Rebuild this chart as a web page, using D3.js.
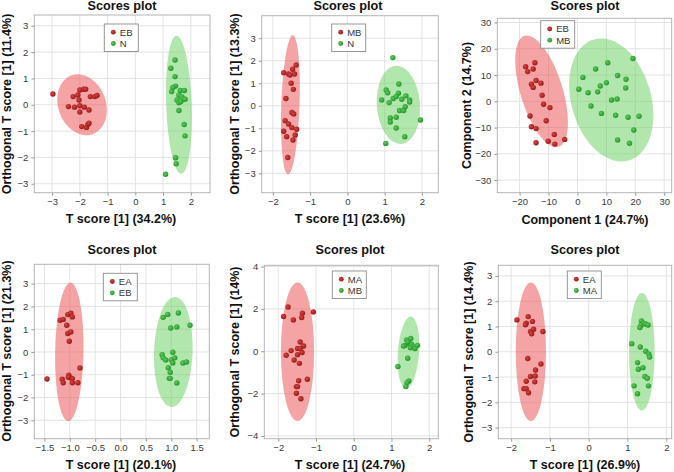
<!DOCTYPE html>
<html><head><meta charset="utf-8">
<script src="https://cdn.jsdelivr.net/npm/d3@7"></script>
<style>body{margin:0;background:#fff}svg{display:block}</style>
</head><body><svg id="c" width="674" height="472"></svg>
<script>
// ---------------- DATA ----------------
const p1Red = [[-2.97,0.41],[-2.24,0.31],[-2.07,0.37],[-2.0,0.56],[-1.86,0.59],[-1.79,0.59],[-2.41,-0.07],[-2.19,-0.09],[-2.03,0.18],[-2.0,-0.04],[-2.0,-0.27],[-1.84,-0.09],[-1.67,-0.2],[-1.62,0.31],[-1.46,0.31],[-1.38,0.35],[-1.93,-0.83],[-1.76,-0.86],[-1.71,-0.75],[-1.67,-0.7]];
const p1Green = [[1.43,1.70],[1.28,1.39],[1.43,1.07],[1.45,0.71],[1.35,0.66],[1.31,0.5],[1.62,0.54],[1.77,0.54],[1.57,0.37],[1.67,0.31],[1.71,0.23],[1.79,0.21],[1.50,0.18],[1.57,0.08],[1.64,0.12],[1.57,-0.22],[1.76,-0.75],[1.79,-1.18],[1.45,-2.01],[1.47,-2.24],[1.09,-2.64]];
const p1Ellipses = [[-1.92,0.0,0.86,1.19,-20],[1.57,0.0,0.46,2.62,-2]];
const p1XTicks = [-3,-2,-1,0,1,2], p1YTicks = [-3,-2,-1,0,1,2,3];
const p1XDomain = [-3.64,2.69], p1YDomain = [-3.34,3.41];
const p1Text = ["T score [1] (34.2%)","Orthogonal T score [1] (11.4%)","EB","N"];

const p2Red = [[-1.375,1.81],[-1.71,1.47],[-1.58,1.41],[-1.54,1.37],[-1.47,1.62],[-1.42,1.41],[-1.51,1.0],[-1.45,0.73],[-1.65,0.32],[-1.49,-0.30],[-1.44,-0.36],[-1.67,-0.66],[-1.58,-0.81],[-1.49,-0.97],[-1.36,-1.04],[-1.71,-1.13],[-1.63,-1.37],[-1.40,-1.30],[-1.46,-1.52],[-1.60,-2.30]];
const p2Green = [[1.22,2.14],[1.38,0.97],[1.04,0.70],[1.08,0.58],[1.37,0.56],[0.92,0.26],[1.12,0.14],[1.23,0.32],[1.31,0.41],[1.46,0.29],[1.57,0.44],[1.67,0.26],[1.67,0.17],[1.40,-0.21],[1.51,-0.21],[1.55,-0.04],[1.15,-0.54],[1.15,-0.72],[1.31,-0.51],[1.31,-0.99],[1.96,-0.63],[1.54,-1.37],[1.03,-1.67]];
const p2Ellipses = [[-1.53,0.04,0.245,3.09,2],[1.37,0.04,0.58,1.74,-4]];
const p2XTicks = [-2,-1,0,1,2], p2YTicks = [-3,-2,-1,0,1,2,3];
const p2XDomain = [-2.30,2.44], p2YDomain = [-3.86,4.0];
const p2Text = ["T score [1] (23.6%)","Orthogonal T score [1] (13.3%)","MB","N"];

const p3Red = [[-17.9,13.2],[-14.7,14.7],[-17.2,11.3],[-15.3,12.3],[-15.9,6.5],[-15.3,5.3],[-14.3,7.9],[-12.6,6.9],[-12.2,2.3],[-11.7,-1.1],[-9.5,-2.4],[-16.4,-5.6],[-15.9,-9.7],[-14.3,-10.4],[-10.8,-7.4],[-8.0,-12.6],[-14.3,-15.8],[-10.1,-15.2],[-7.8,-16.3],[-4.4,-14.5]];
const p3Green = [[19.2,16.3],[10.5,14.7],[6.3,12.3],[1.9,9.1],[13.9,9.8],[10.0,7.1],[16.8,8.4],[0.5,4.6],[3.7,3.3],[7.9,5.8],[7.0,3.6],[16.7,5.1],[11.8,0.5],[13.7,0.9],[4.7,-1.8],[8.3,-4.6],[13.2,-5.3],[17.5,-6.1],[21.3,-5.7],[19.5,-10.9],[13.9,-14.7],[18.0,-16.0]];
const p3Ellipses = [[-12.4,3.8,7.3,22.1,-17],[11.7,0.5,13.8,24.0,-16]];
const p3XTicks = [-20,-10,0,10,20,30], p3YTicks = [-30,-20,-10,0,10,20,30];
const p3XDomain = [-27.7,32.6], p3YDomain = [-34.8,31.6];
const p3Text = ["Component 1 (24.7%)","Component 2 (14.7%)","EB","MB"];

const p4Red = [[-1.19,1.39],[-1.13,1.43],[-1.04,1.64],[-0.98,1.70],[-0.95,1.54],[-1.06,1.17],[-1.04,0.81],[-0.98,0.88],[-1.01,0.47],[-0.80,-0.70],[-1.45,-1.19],[-1.15,-1.20],[-1.13,-1.35],[-1.02,-1.02],[-0.99,-1.13],[-0.95,-1.17],[-0.95,-1.35],[-0.84,-1.35],[-1.03,-1.11]];
const p4Green = [[0.84,1.52],[0.93,1.65],[1.14,1.71],[1.37,1.17],[0.99,1.05],[1.11,1.10],[0.82,-0.12],[0.84,-0.26],[0.89,-0.35],[1.03,-0.01],[1.00,-0.35],[1.03,-0.48],[1.07,-0.26],[1.23,-0.48],[1.30,-0.44],[0.94,-0.69],[0.98,-0.89],[0.96,-1.16],[0.98,-1.16],[1.11,-1.36]];
const p4Ellipses = [[-1.01,0.0,0.28,3.04,1],[1.04,0.0,0.38,2.42,2]];
const p4XTicks = [-1.5,-1.0,-0.5,0.0,0.5,1.0,1.5], p4YTicks = [-3,-2,-1,0,1,2,3];
const p4XDomain = [-1.70,1.75], p4YDomain = [-3.81,3.85];
const p4Text = ["T score [1] (20.1%)","Orthogonal T score [1] (21.3%)","EA","EB"];

const p5Red = [[-1.74,2.09],[-1.86,1.64],[-1.60,1.48],[-1.36,1.80],[-1.38,1.59],[-1.07,1.86],[-1.42,0.44],[-1.33,0.25],[-1.49,0.13],[-1.42,0.13],[-1.66,0.03],[-1.37,-0.06],[-1.79,-0.19],[-1.49,-0.16],[-1.58,-0.41],[-1.44,-0.57],[-1.23,-1.32],[-1.46,-1.39],[-1.52,-1.67],[-1.49,-1.67],[-1.52,-1.98],[-1.40,-2.24]];
const p5Green = [[1.40,0.54],[1.51,0.60],[1.36,0.28],[1.46,0.38],[1.53,0.33],[1.57,0.22],[1.62,0.13],[1.69,0.28],[1.43,0.44],[1.50,0.17],[1.43,-0.33],[1.17,-0.72],[1.46,-1.40],[1.41,-1.48],[1.38,-1.67],[1.32,0.25]];
const p5Ellipses = [[-1.49,-0.02,0.44,3.27,0],[1.45,-0.06,0.28,1.70,4]];
const p5XTicks = [-2,-1,0,1,2], p5YTicks = [-4,-2,0,2,4];
const p5XDomain = [-2.37,2.24], p5YDomain = [-4.13,4.06];
const p5Text = ["T score [1] (24.7%)","Orthogonal T score [1] (14%)","MA","MB"];

const p6Red = [[-1.85,1.26],[-1.61,1.13],[-1.63,1.07],[-1.56,1.39],[-1.45,1.20],[-1.50,0.80],[-1.47,0.71],[-1.42,0.89],[-1.18,0.80],[-1.57,-0.27],[-1.23,-0.48],[-1.37,-0.72],[-1.38,-0.96],[-1.50,-0.98],[-1.61,-1.17],[-1.39,-1.19],[-1.67,-1.46],[-1.61,-1.46],[-1.55,-1.62]];
const p6Green = [[1.11,0.32],[1.36,1.22],[1.41,1.13],[1.35,1.05],[1.32,0.96],[1.47,1.10],[1.53,1.06],[1.33,0.19],[1.47,0.02],[1.55,-0.10],[1.57,-0.21],[1.26,-0.43],[1.28,-0.69],[1.40,-0.63],[1.45,-0.98],[1.51,-1.05],[1.17,-1.35],[1.54,-1.35],[1.26,-1.66]];
const p6Ellipses = [[-1.49,0.0,0.39,2.74,0],[1.37,0.0,0.33,2.32,0]];
const p6XTicks = [-2,-1,0,1,2], p6YTicks = [-3,-2,-1,0,1,2,3];
const p6XDomain = [-2.33,2.14], p6YDomain = [-3.44,3.42];
const p6Text = ["T score [1] (26.9%)","Orthogonal T score [1] (14.4%)","EA","MA"];

const titleText = "Scores plot";

// ---------------- LAYOUT ----------------
const layout = [
  {frame:[34.3,15,210,192.7], title:[122,5.5], xlab:[121,219], ylab:[7,104], legend:[104.3,24]},
  {frame:[261.7,15.7,438.3,192.7], title:[348,5.5], xlab:[350,219], ylab:[235,104], legend:[331.7,24]},
  {frame:[497.3,18.3,671.7,192.7], title:[585,5.5], xlab:[585,220], ylab:[467,105.5], legend:[540.7,20.7]},
  {frame:[34.3,264.3,209.3,438.7], title:[122,250], xlab:[121,465], ylab:[7,351], legend:[103.3,273.3]},
  {frame:[264.3,265.3,438.3,438.7], title:[350,250], xlab:[350,465], ylab:[234.5,352], legend:[332.3,271]},
  {frame:[498.3,265.3,671.7,438.7], title:[585,250], xlab:[585,465], ylab:[468.5,352], legend:[567.3,271]}
];
const fInt = d3.format("d"), fDec = d3.format(".1f");
const panels = [
  {red:p1Red, green:p1Green, ell:p1Ellipses, xt:p1XTicks, yt:p1YTicks, xd:p1XDomain, yd:p1YDomain, txt:p1Text, xf:fInt, yf:fInt},
  {red:p2Red, green:p2Green, ell:p2Ellipses, xt:p2XTicks, yt:p2YTicks, xd:p2XDomain, yd:p2YDomain, txt:p2Text, xf:fInt, yf:fInt},
  {red:p3Red, green:p3Green, ell:p3Ellipses, xt:p3XTicks, yt:p3YTicks, xd:p3XDomain, yd:p3YDomain, txt:p3Text, xf:fInt, yf:fInt},
  {red:p4Red, green:p4Green, ell:p4Ellipses, xt:p4XTicks, yt:p4YTicks, xd:p4XDomain, yd:p4YDomain, txt:p4Text, xf:fDec, yf:fInt},
  {red:p5Red, green:p5Green, ell:p5Ellipses, xt:p5XTicks, yt:p5YTicks, xd:p5XDomain, yd:p5YDomain, txt:p5Text, xf:fInt, yf:fInt},
  {red:p6Red, green:p6Green, ell:p6Ellipses, xt:p6XTicks, yt:p6YTicks, xd:p6XDomain, yd:p6YDomain, txt:p6Text, xf:fInt, yf:fInt}
];

// ---------------- DRAW ----------------
const FONT = "'Liberation Sans', Arial, Helvetica, sans-serif";
const svg = d3.select("#c");
svg.append("rect").attr("width",674).attr("height",472).attr("fill","#fff");
const defs = svg.append("defs");
function grad(id,c0,c1){
  const g = defs.append("radialGradient").attr("id",id).attr("cx","40%").attr("cy","40%").attr("r","65%");
  g.append("stop").attr("offset","0%").attr("stop-color",c0);
  g.append("stop").attr("offset","100%").attr("stop-color",c1);
}
grad("gRed","#d64545","#961313");
grad("gGreen","#5ccc5c","#1f8f25");
const ellFill = ["rgba(235,90,90,0.55)","rgba(100,205,90,0.5)"];
const dotFill = ["url(#gRed)","url(#gGreen)"];
const R = 2.7;

panels.forEach((p,i)=>{
  const L = layout[i];
  const [x0,y0,x1,y1] = L.frame;
  const x = d3.scaleLinear().domain(p.xd).range([x0,x1]);
  const y = d3.scaleLinear().domain(p.yd).range([y1,y0]);
  const g = svg.append("g");
  const cid = "clip"+i;
  defs.append("clipPath").attr("id",cid).append("rect").attr("x",x0).attr("y",y0).attr("width",x1-x0).attr("height",y1-y0);

  // grid
  g.append("g").selectAll("line").data(p.xt).join("line")
    .attr("x1",d=>x(d)).attr("x2",d=>x(d)).attr("y1",y0).attr("y2",y1)
    .attr("stroke","#e3e3e3").attr("stroke-width",1);
  g.append("g").selectAll("line").data(p.yt).join("line")
    .attr("y1",d=>y(d)).attr("y2",d=>y(d)).attr("x1",x0).attr("x2",x1)
    .attr("stroke","#e3e3e3").attr("stroke-width",1);

  // ellipses
  const eg = g.append("g").attr("clip-path",`url(#${cid})`);
  eg.selectAll("ellipse").data(p.ell).join("ellipse")
    .attr("cx",d=>x(d[0])).attr("cy",d=>y(d[1]))
    .attr("rx",d=>Math.abs(x(d[0]+d[2])-x(d[0])))
    .attr("ry",d=>Math.abs(y(d[1]+d[3])-y(d[1])))
    .attr("transform",d=>`rotate(${d[4]},${x(d[0])},${y(d[1])})`)
    .attr("fill",(d,j)=>ellFill[j]);

  // points
  [p.red,p.green].forEach((arr,j)=>{
    eg.append("g").selectAll("circle").data(arr).join("circle")
      .attr("cx",d=>x(d[0])).attr("cy",d=>y(d[1])).attr("r",R)
      .attr("fill",dotFill[j]);
  });

  // frame
  g.append("rect").attr("x",x0).attr("y",y0).attr("width",x1-x0).attr("height",y1-y0)
    .attr("fill","none").attr("stroke","#b4b4b4").attr("stroke-width",1);

  // axes
  const ax = g.append("g").attr("transform",`translate(0,${y1})`)
    .call(d3.axisBottom(x).tickValues(p.xt).tickFormat(p.xf).tickSize(3).tickPadding(3));
  const ay = g.append("g").attr("transform",`translate(${x0},0)`)
    .call(d3.axisLeft(y).tickValues(p.yt).tickFormat(p.yf).tickSize(3).tickPadding(3));
  [ax,ay].forEach(a=>{
    a.select(".domain").remove();
    a.selectAll("line").attr("stroke","#9a9a9a");
    a.selectAll("text").attr("fill","#3a3a3a").style("font-family",FONT).style("font-size","9.5px");
  });

  // title
  g.append("text").attr("x",L.title[0]).attr("y",L.title[1]).attr("dy","0.35em")
    .attr("text-anchor","middle").style("font-family",FONT).style("font-weight","bold")
    .style("font-size","12.7px").attr("fill","#111").text(titleText);
  // x label
  g.append("text").attr("x",L.xlab[0]).attr("y",L.xlab[1]).attr("dy","0.35em")
    .attr("text-anchor","middle").style("font-family",FONT).style("font-weight","bold")
    .style("font-size","12.5px").attr("fill","#111").text(p.txt[0]);
  // y label
  g.append("text").attr("transform",`translate(${L.ylab[0]},${L.ylab[1]}) rotate(-90)`).attr("dy","0.35em")
    .attr("text-anchor","middle").style("font-family",FONT).style("font-weight","bold")
    .style("font-size","12.5px").attr("fill","#111").text(p.txt[1]);

  // legend
  const [lx,ly] = L.legend;
  const lg = g.append("g").attr("transform",`translate(${lx},${ly})`);
  lg.append("rect").attr("x",0).attr("y",0).attr("width",34).attr("height",27.5)
    .attr("fill","#fff").attr("stroke","#8c8c8c").attr("stroke-width",0.9);
  [0,1].forEach(j=>{
    lg.append("circle").attr("cx",9).attr("cy",8.2+j*11.3).attr("r",2.4).attr("fill",dotFill[j]);
    lg.append("text").attr("x",15.5).attr("y",8.2+j*11.3).attr("dy","0.35em")
      .style("font-family",FONT).style("font-size","9.5px").attr("fill","#333").text(p.txt[2+j]);
  });
});
</script></body></html>
